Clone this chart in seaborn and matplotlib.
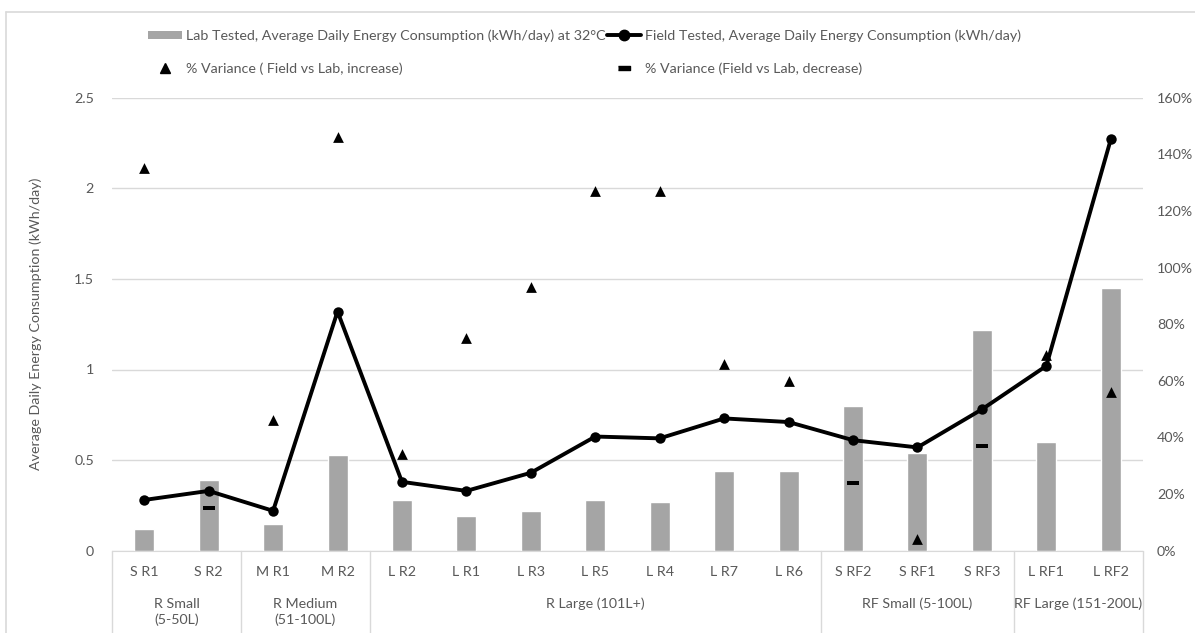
import numpy as np
import pandas as pd
import matplotlib
matplotlib.use("Agg")
import matplotlib.pyplot as plt
import matplotlib.transforms as mtransforms
from matplotlib.lines import Line2D
from matplotlib.patches import Patch
from matplotlib.markers import MarkerStyle
import seaborn as sns

# === DATA ===
categories = ["S R1", "S R2", "M R1", "M R2", "L R2", "L R1", "L R3", "L R5",
              "L R4", "L R7", "L R6", "S RF2", "S RF1", "S RF3", "L RF1", "L RF2"]
lab_kwh = [0.12, 0.39, 0.15, 0.53, 0.28, 0.19, 0.22, 0.28,
           0.27, 0.44, 0.44, 0.80, 0.54, 1.22, 0.60, 1.45]
field_kwh = [0.28, 0.33, 0.22, 1.32, 0.38, 0.33, 0.43, 0.63,
             0.62, 0.73, 0.71, 0.61, 0.57, 0.78, 1.02, 2.27]

increase_cats = ["S R1", "M R1", "M R2", "L R2", "L R1", "L R3", "L R5",
                 "L R4", "L R7", "L R6", "S RF1", "L RF1", "L RF2"]
increase_pct = [135, 46, 146, 34, 75, 93, 127, 127, 66, 60, 4, 69, 56]
decrease_cats = ["S R2", "S RF2", "S RF3"]
decrease_pct = [15, 24, 37]

group_names = ["R Small\n(5-50L)", "R Medium\n(51-100L)", "R Large (101L+)",
               "RF Small (5-100L)", "RF Large (151-200L)"]
group_sizes = [2, 2, 7, 3, 2]

left_ticks = [0, 0.5, 1, 1.5, 2, 2.5]
left_labels = ["0", "0.5", "1", "1.5", "2", "2.5"]
right_ticks = [0, 20, 40, 60, 80, 100, 120, 140, 160]
right_labels = [f"{t}%" for t in right_ticks]

LAB_LABEL = "Lab Tested, Average Daily Energy Consumption (kWh/day) at 32°C"
FIELD_LABEL = "Field Tested, Average Daily Energy Consumption (kWh/day)"
INC_LABEL = "% Variance ( Field vs Lab, increase)"
DEC_LABEL = "% Variance (Field vs Lab, decrease)"

BAR_COLOR = "#a5a5a5"
TEXT_COLOR = "#595959"
GRID_COLOR = "#d9d9d9"

sns.set_style("white")
plt.rcParams['font.family'] = ['Lato', 'DejaVu Sans']

W, H = 1195, 633
fig = plt.figure(figsize=(W / 100, H / 100), dpi=100)

# size the font so the first legend label is as wide as in the original (~421 px)
probe = fig.text(0, 0, LAB_LABEL, fontsize=10)
probe_w = probe.get_window_extent(fig.canvas.get_renderer()).width
probe.remove()
FS = 10 * 421 / probe_w

ax = fig.add_axes([112 / W, (H - 550.7) / H, (1143 - 112) / W, 453 / H])

pos_of = {c: i for i, c in enumerate(categories)}
df = pd.DataFrame({"cat": categories, "lab": lab_kwh, "field": field_kwh})
df["pos"] = np.arange(len(df))
inc_df = pd.DataFrame({"pos": [pos_of[c] for c in increase_cats], "pct": increase_pct})
dec_df = pd.DataFrame({"pos": [pos_of[c] for c in decrease_cats], "pct": decrease_pct})

# bars + line on left axis
sns.barplot(data=df, x="pos", y="lab", color=BAR_COLOR, saturation=1,
            width=0.31, ax=ax, zorder=2)
sns.lineplot(data=df, x="pos", y="field", color="black", linewidth=2.8,
             marker="o", markersize=7.5, markeredgewidth=0, ax=ax, zorder=3)

ax.set_xlim(-0.5, len(categories) - 0.5)
ax.set_ylim(0, 2.5)
ax.set_yticks(left_ticks)
ax.set_yticklabels(left_labels)
ax.yaxis.grid(True, color=GRID_COLOR, linewidth=1)
ax.set_axisbelow(True)
ax.tick_params(axis="x", length=0, labelbottom=False)
ax.tick_params(axis="y", length=0, pad=13, labelcolor=TEXT_COLOR, labelsize=FS)
for s in ["top", "right", "left"]:
    ax.spines[s].set_visible(False)
ax.spines["bottom"].set_color(GRID_COLOR)
ax.set_xlabel("")
ax.set_ylabel("Average Daily Energy Consumption (kWh/day)", color=TEXT_COLOR, fontsize=FS)
ax.yaxis.set_label_coords(-0.068, 0.5)

# % variance markers on right axis
ax2 = ax.twinx()
dash = MarkerStyle([(-1, -0.3), (1, -0.3), (1, 0.3), (-1, 0.3)])
sns.scatterplot(data=inc_df, x="pos", y="pct", marker="^", color="black",
                s=60, linewidth=0, ax=ax2, zorder=4)
sns.scatterplot(data=dec_df, x="pos", y="pct", marker=dash, color="black",
                s=75, linewidth=0, ax=ax2, zorder=4)
ax2.set_ylim(0, 160)
ax2.set_yticks(right_ticks)
ax2.set_yticklabels(right_labels)
ax2.tick_params(axis="y", length=0, pad=10, labelcolor=TEXT_COLOR, labelsize=FS)
ax2.set_ylabel("")
ax2.set_xlabel("")
for s in ax2.spines.values():
    s.set_visible(False)
ax2.grid(False)

# category table below the axis
trans = mtransforms.blended_transform_factory(ax.transData, ax.transAxes)
ax_h = 453.0
for i, c in enumerate(categories):
    ax.text(i, -(572.3 - 550.7) / ax_h, c, transform=trans, ha="center", va="center",
            color=TEXT_COLOR, fontsize=FS)

bounds = np.concatenate([[0], np.cumsum(group_sizes)]) - 0.5
for b in bounds:
    ax.add_line(Line2D([b, b], [0, -0.25], transform=trans, color=GRID_COLOR,
                       linewidth=1, clip_on=False))
for name, lo, hi in zip(group_names, bounds[:-1], bounds[1:]):
    yc = 612 if "\n" in name else 604
    ax.text((lo + hi) / 2, -(yc - 550.7) / ax_h, name, transform=trans,
            ha="center", va="center", color=TEXT_COLOR, fontsize=FS,
            linespacing=1.3, multialignment="center")

# legend
handles = [
    Patch(facecolor=BAR_COLOR, edgecolor="none"),
    Line2D([], [], marker="^", color="black", linestyle="none", markersize=7.5),
    Line2D([], [], color="black", linewidth=2.8, marker="o", markersize=7.5),
    Line2D([], [], marker=dash, color="black", linestyle="none", markersize=8),
]
labels = [LAB_LABEL, INC_LABEL, FIELD_LABEL, DEC_LABEL]
leg = fig.legend(handles, labels, ncol=2, loc="upper left",
                 bbox_to_anchor=(148 / W, 1 - 29.5 / H), frameon=False,
                 fontsize=FS, handlelength=2.4, handleheight=0.5,
                 handletextpad=0.25, columnspacing=0.12, labelspacing=1.4,
                 borderpad=0, borderaxespad=0)
for t in leg.get_texts():
    t.set_color(TEXT_COLOR)

# chart border
fig.add_artist(Line2D([6 / W, 1], [1 - 12 / H, 1 - 12 / H], transform=fig.transFigure,
                      color=GRID_COLOR, linewidth=1.2))
fig.add_artist(Line2D([6 / W, 6 / W], [0, 1 - 12 / H], transform=fig.transFigure,
                      color=GRID_COLOR, linewidth=1.2))

fig.savefig("out.png", dpi=100)
